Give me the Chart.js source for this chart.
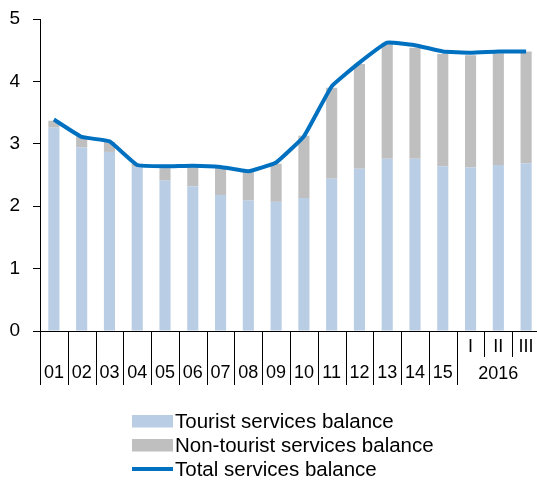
<!DOCTYPE html>
<html>
<head>
<meta charset="utf-8">
<script src="https://cdn.jsdelivr.net/npm/chart.js@4.4.1/dist/chart.umd.min.js"></script>
<style>
  html, body { margin: 0; padding: 0; background: #fff; overflow: hidden; }
  #wrap { width: 537px; height: 481px; overflow: hidden; }
</style>
</head>
<body>
<div id="wrap"><canvas id="servicesChart" width="540" height="481"></canvas></div>
<script>
// categories: years 2001-2015, then quarters of 2016
const categories = ["01", "02", "03", "04", "05", "06", "07", "08", "09", "10",
                    "11", "12", "13", "14", "15", "I", "II", "III"];
const yearLabel = "2016";
const tourist = [3.26, 2.94, 2.87, 2.63, 2.41, 2.32, 2.18, 2.09, 2.07, 2.13,
                 2.44, 2.60, 2.76, 2.76, 2.64, 2.62, 2.66, 2.69];
const nonTourist = [0.11, 0.19, 0.16, 0.05, 0.20, 0.33, 0.43, 0.46, 0.61, 1.00,
                    1.46, 1.68, 1.86, 1.78, 1.80, 1.80, 1.79, 1.79];
const total = [3.39, 3.11, 3.04, 2.66, 2.64, 2.65, 2.63, 2.56, 2.70, 3.12,
               3.92, 4.30, 4.62, 4.58, 4.48, 4.46, 4.48, 4.48];
const yTicks = [0, 1, 2, 3, 4, 5];

const FONT = "'Liberation Sans', Arial, sans-serif";

// подписи оси X в два уровня + засечки
const xAxisLabels = {
  id: "xAxisLabels",
  afterDraw(chart) {
    const { ctx } = chart;
    const x = chart.scales.x, y = chart.scales.y;
    const base = y.getPixelForValue(0);
    const half = (x.getPixelForValue(1) - x.getPixelForValue(0)) / 2;
    ctx.save();
    ctx.strokeStyle = "#000";
    ctx.lineWidth = 1;
    ctx.fillStyle = "#000";
    ctx.font = "18px " + FONT;
    ctx.textAlign = "center";
    ctx.textBaseline = "middle";
    categories.forEach((lab, i) => {
      const cx = x.getPixelForValue(i);
      const left = Math.round(cx - half) + 0.5;
      ctx.beginPath();
      ctx.moveTo(left, base);
      ctx.lineTo(left, base + (i > 15 ? 26 : 54));
      ctx.stroke();
      ctx.fillText(lab, cx, i >= 15 ? base + 16 : base + 42);
    });
    ctx.fillText(yearLabel, x.getPixelForValue(16), base + 43);
    ctx.restore();
  }
};

// легенда слева внизу, столбиком
const bottomLegend = {
  id: "bottomLegend",
  afterDraw(chart) {
    const { ctx } = chart;
    const left = 132, top = 421, step = 24;
    ctx.save();
    ctx.font = "20.5px " + FONT;
    ctx.textAlign = "left";
    ctx.textBaseline = "middle";
    chart.data.datasets.forEach((ds, i) => {
      const cy = top + i * step;
      if (ds.type === "line") {
        ctx.strokeStyle = ds.borderColor;
        ctx.lineWidth = 4;
        ctx.beginPath();
        ctx.moveTo(left, cy);
        ctx.lineTo(left + 41, cy);
        ctx.stroke();
      } else {
        ctx.fillStyle = ds.backgroundColor;
        ctx.fillRect(left, cy - 6, 41, 12.5);
      }
      ctx.fillStyle = "#000";
      ctx.fillText(ds.label, left + 43, cy + 1);
    });
    ctx.restore();
  }
};

const ctx = document.getElementById("servicesChart").getContext("2d");
new Chart(ctx, {
  data: {
    labels: categories,
    datasets: [
      {
        type: "bar",
        label: "Tourist services balance",
        data: tourist,
        backgroundColor: "#b9cde5",
        stack: "bars",
        order: 1
      },
      {
        type: "bar",
        label: "Non-tourist services balance",
        data: nonTourist,
        backgroundColor: "#bfbfbf",
        stack: "bars",
        order: 1
      },
      {
        type: "line",
        label: "Total services balance",
        data: total,
        borderColor: "#0070c0",
        borderWidth: 4,
        pointRadius: 0,
        tension: 0.1,
        fill: false,
        stack: "total",
        order: 0
      }
    ]
  },
  options: {
    responsive: false,
    animation: false,
    devicePixelRatio: 1,
    layout: { padding: { top: 19, right: 0, bottom: 150, left: 0 } },
    datasets: { bar: { barPercentage: 0.4, categoryPercentage: 1 } },
    plugins: { legend: { display: false }, tooltip: { enabled: false } },
    scales: {
      x: {
        stacked: true,
        ticks: { display: false },
        grid: { display: false },
        border: { color: "#000", width: 1 },
        afterFit(s) { s.height = 0; }
      },
      y: {
        stacked: true,
        min: yTicks[0],
        max: yTicks[yTicks.length - 1],
        ticks: { stepSize: 1, padding: 13, color: "#000", font: { size: 19, family: FONT } },
        grid: { drawOnChartArea: false, drawTicks: true, tickLength: 7, color: "#000" },
        border: { color: "#000", width: 1 },
        afterFit(s) { s.width = 40; s.paddingTop = 0; s.paddingBottom = 0; }
      }
    }
  },
  plugins: [xAxisLabels, bottomLegend]
});
</script>
</body>
</html>
